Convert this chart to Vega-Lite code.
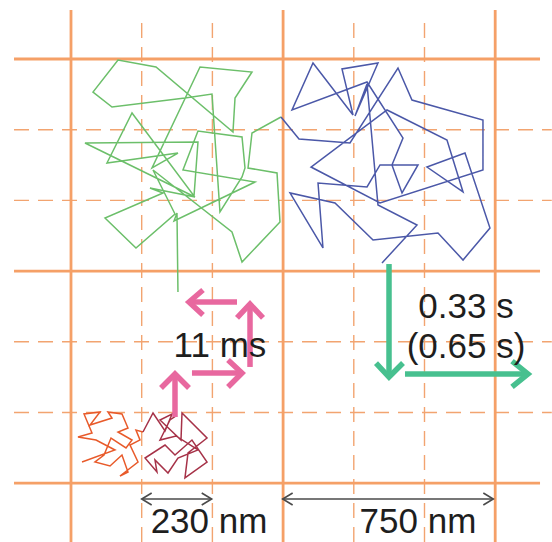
{
"$schema": "https://vega.github.io/schema/vega-lite/v6.json",
"width": 552, "height": 542, "padding": 0, "autosize": {"type": "none"},
"background": "white",
"config": {"view": {"stroke": null}},
"datasets": {
"grid": [
{"k":"s","x":0,"x2":0,"y":-0.693,"y2":6.9},
{"k":"s","x":3,"x2":3,"y":-0.693,"y2":6.9},
{"k":"s","x":6,"x2":6,"y":-0.693,"y2":6.9},
{"k":"s","x":-0.806,"x2":6.634,"y":0,"y2":0},
{"k":"s","x":-0.806,"x2":6.634,"y":3,"y2":3},
{"k":"s","x":-0.806,"x2":6.634,"y":6,"y2":6},
{"k":"d","x":1,"x2":1,"y":-0.509,"y2":6.9},
{"k":"d","x":2,"x2":2,"y":-0.509,"y2":6.9},
{"k":"d","x":4,"x2":4,"y":-0.509,"y2":6.9},
{"k":"d","x":5,"x2":5,"y":-0.509,"y2":6.9},
{"k":"d","x":-0.806,"x2":6.8,"y":1,"y2":1},
{"k":"d","x":-0.806,"x2":6.8,"y":2,"y2":2},
{"k":"d","x":-0.806,"x2":6.8,"y":4,"y2":4},
{"k":"d","x":-0.806,"x2":6.8,"y":5,"y2":5}
],
"traj": [
{"s":"g","i":1,"x":1.513,"y":3.296},
{"s":"g","i":2,"x":1.499,"y":2.178},
{"s":"g","i":3,"x":1.457,"y":2.291},
{"s":"g","i":4,"x":2.603,"y":1.740},
{"s":"g","i":5,"x":1.584,"y":1.570},
{"s":"g","i":6,"x":1.796,"y":1.018},
{"s":"g","i":7,"x":2.419,"y":1.103},
{"s":"g","i":8,"x":2.461,"y":1.542},
{"s":"g","i":9,"x":2.419,"y":1.669},
{"s":"g","i":10,"x":2.107,"y":2.164},
{"s":"g","i":11,"x":1.994,"y":0.495},
{"s":"g","i":12,"x":1.612,"y":0.552},
{"s":"g","i":13,"x":0.580,"y":0.679},
{"s":"g","i":14,"x":0.311,"y":0.467},
{"s":"g","i":15,"x":0.665,"y":0.014},
{"s":"g","i":16,"x":1.202,"y":0.113},
{"s":"g","i":17,"x":2.291,"y":1.033},
{"s":"g","i":18,"x":2.320,"y":0.552},
{"s":"g","i":19,"x":2.560,"y":0.184},
{"s":"g","i":20,"x":1.825,"y":0.113},
{"s":"g","i":21,"x":1.146,"y":1.542},
{"s":"g","i":22,"x":1.513,"y":1.330},
{"s":"g","i":23,"x":0.509,"y":1.471},
{"s":"g","i":24,"x":0.863,"y":0.764},
{"s":"g","i":25,"x":1.740,"y":1.938},
{"s":"g","i":26,"x":1.796,"y":1.174},
{"s":"g","i":27,"x":0.198,"y":1.188},
{"s":"g","i":28,"x":1.754,"y":1.952},
{"s":"g","i":29,"x":1.117,"y":1.825},
{"s":"g","i":30,"x":1.301,"y":1.895},
{"s":"g","i":31,"x":0.481,"y":2.249},
{"s":"g","i":32,"x":0.919,"y":2.673},
{"s":"g","i":33,"x":1.471,"y":2.192},
{"s":"g","i":34,"x":1.160,"y":1.570},
{"s":"g","i":35,"x":2.277,"y":2.447},
{"s":"g","i":36,"x":2.419,"y":2.871},
{"s":"g","i":37,"x":2.956,"y":2.306},
{"s":"g","i":38,"x":2.914,"y":1.612},
{"s":"g","i":39,"x":2.504,"y":1.542},
{"s":"g","i":40,"x":2.560,"y":1.047},
{"s":"g","i":41,"x":2.970,"y":0.820},
{"s":"b","i":1,"x":2.970,"y":0.820},
{"s":"b","i":2,"x":3.225,"y":1.132},
{"s":"b","i":3,"x":3.946,"y":1.188},
{"s":"b","i":4,"x":4.625,"y":0.127},
{"s":"b","i":5,"x":4.823,"y":0.580},
{"s":"b","i":6,"x":5.827,"y":0.863},
{"s":"b","i":7,"x":5.827,"y":1.570},
{"s":"b","i":8,"x":4.371,"y":2.037},
{"s":"b","i":9,"x":3.395,"y":1.528},
{"s":"b","i":10,"x":4.470,"y":0.721},
{"s":"b","i":11,"x":5.318,"y":1.146},
{"s":"b","i":12,"x":5.545,"y":1.881},
{"s":"b","i":13,"x":5.035,"y":1.528},
{"s":"b","i":14,"x":5.573,"y":1.330},
{"s":"b","i":15,"x":5.926,"y":2.390},
{"s":"b","i":16,"x":5.545,"y":2.843},
{"s":"b","i":17,"x":5.191,"y":2.461},
{"s":"b","i":18,"x":4.272,"y":2.560},
{"s":"b","i":19,"x":3.734,"y":2.037},
{"s":"b","i":20,"x":3.098,"y":1.895},
{"s":"b","i":21,"x":3.564,"y":2.673},
{"s":"b","i":22,"x":3.494,"y":1.754},
{"s":"b","i":23,"x":4.187,"y":1.810},
{"s":"b","i":24,"x":4.371,"y":1.499},
{"s":"b","i":25,"x":4.908,"y":1.499},
{"s":"b","i":26,"x":4.682,"y":1.895},
{"s":"b","i":27,"x":4.540,"y":1.499},
{"s":"b","i":28,"x":4.696,"y":1.117},
{"s":"b","i":29,"x":4.187,"y":0.325},
{"s":"b","i":30,"x":3.126,"y":0.721},
{"s":"b","i":31,"x":3.423,"y":0.057},
{"s":"b","i":32,"x":3.989,"y":0.792},
{"s":"b","i":33,"x":3.833,"y":0.141},
{"s":"b","i":34,"x":4.342,"y":0.057},
{"s":"b","i":35,"x":4.017,"y":0.806},
{"s":"b","i":36,"x":4.187,"y":0.354},
{"s":"b","i":37,"x":4.342,"y":2.065},
{"s":"b","i":38,"x":4.894,"y":2.348},
{"s":"b","i":39,"x":4.399,"y":2.885},
{"s":"r","i":1,"x":0.156,"y":5.700},
{"s":"r","i":2,"x":0.622,"y":5.530},
{"s":"r","i":3,"x":0.354,"y":5.389},
{"s":"r","i":4,"x":0.099,"y":5.346},
{"s":"r","i":5,"x":0.297,"y":5.290},
{"s":"r","i":6,"x":0.184,"y":5.021},
{"s":"r","i":7,"x":0.410,"y":4.993},
{"s":"r","i":8,"x":0.269,"y":5.177},
{"s":"r","i":9,"x":0.580,"y":5.078},
{"s":"r","i":10,"x":0.523,"y":4.993},
{"s":"r","i":11,"x":0.721,"y":5.021},
{"s":"r","i":12,"x":0.806,"y":5.219},
{"s":"r","i":13,"x":0.665,"y":5.276},
{"s":"r","i":14,"x":0.863,"y":5.389},
{"s":"r","i":15,"x":0.778,"y":5.502},
{"s":"r","i":16,"x":0.566,"y":5.361},
{"s":"r","i":17,"x":0.467,"y":5.601},
{"s":"r","i":18,"x":0.339,"y":5.700},
{"s":"r","i":19,"x":0.552,"y":5.757},
{"s":"r","i":20,"x":0.721,"y":5.601},
{"s":"r","i":21,"x":0.806,"y":5.842},
{"s":"r","i":22,"x":0.693,"y":5.898},
{"s":"r","i":23,"x":0.948,"y":5.700},
{"s":"r","i":24,"x":0.835,"y":5.460},
{"s":"r","i":25,"x":0.976,"y":5.389},
{"s":"r","i":26,"x":0.919,"y":5.248},
{"s":"r","i":27,"x":1.018,"y":5.276},
{"s":"d","i":1,"x":1.018,"y":5.276},
{"s":"d","i":2,"x":1.160,"y":5.007},
{"s":"d","i":3,"x":1.330,"y":5.262},
{"s":"d","i":4,"x":1.429,"y":5.021},
{"s":"d","i":5,"x":1.259,"y":5.106},
{"s":"d","i":6,"x":1.556,"y":5.389},
{"s":"d","i":7,"x":1.570,"y":5.007},
{"s":"d","i":8,"x":1.924,"y":5.361},
{"s":"d","i":9,"x":1.655,"y":5.573},
{"s":"d","i":10,"x":1.612,"y":5.926},
{"s":"d","i":11,"x":1.924,"y":5.700},
{"s":"d","i":12,"x":1.711,"y":5.389},
{"s":"d","i":13,"x":1.471,"y":5.601},
{"s":"d","i":14,"x":1.330,"y":5.460},
{"s":"d","i":15,"x":1.047,"y":5.644},
{"s":"d","i":16,"x":1.216,"y":5.842},
{"s":"d","i":17,"x":1.188,"y":5.672},
{"s":"d","i":18,"x":1.372,"y":5.856},
{"s":"d","i":19,"x":1.513,"y":5.644},
{"s":"d","i":20,"x":1.796,"y":5.530},
{"s":"d","i":21,"x":1.485,"y":5.332},
{"s":"d","i":22,"x":1.259,"y":5.389},
{"s":"d","i":23,"x":1.400,"y":5.106},
{"s":"d","i":24,"x":1.485,"y":5.049}
],
"arrows": [
{"c":"pink","a":"p1s","i":1,"x":1.471,"y":5.064},
{"c":"pink","a":"p1s","i":2,"x":1.471,"y":4.470},
{"c":"pink","a":"p1h","i":1,"x":1.273,"y":4.653},
{"c":"pink","a":"p1h","i":2,"x":1.471,"y":4.455},
{"c":"pink","a":"p1h","i":3,"x":1.669,"y":4.653},
{"c":"pink","a":"p2s","i":1,"x":1.711,"y":4.441},
{"c":"pink","a":"p2s","i":2,"x":2.405,"y":4.441},
{"c":"pink","a":"p2h","i":1,"x":2.221,"y":4.257},
{"c":"pink","a":"p2h","i":2,"x":2.419,"y":4.441},
{"c":"pink","a":"p2h","i":3,"x":2.221,"y":4.639},
{"c":"pink","a":"p3s","i":1,"x":2.532,"y":4.356},
{"c":"pink","a":"p3s","i":2,"x":2.532,"y":3.480},
{"c":"pink","a":"p3h","i":1,"x":2.348,"y":3.663},
{"c":"pink","a":"p3h","i":2,"x":2.532,"y":3.465},
{"c":"pink","a":"p3h","i":3,"x":2.716,"y":3.663},
{"c":"pink","a":"p4s","i":1,"x":2.348,"y":3.437},
{"c":"pink","a":"p4s","i":2,"x":1.683,"y":3.437},
{"c":"pink","a":"p4h","i":1,"x":1.867,"y":3.267},
{"c":"pink","a":"p4h","i":2,"x":1.669,"y":3.437},
{"c":"pink","a":"p4h","i":3,"x":1.867,"y":3.621},
{"c":"teal","a":"t1s","i":1,"x":4.498,"y":2.900},
{"c":"teal","a":"t1s","i":2,"x":4.498,"y":4.484},
{"c":"teal","a":"t1h","i":1,"x":4.314,"y":4.300},
{"c":"teal","a":"t1h","i":2,"x":4.498,"y":4.498},
{"c":"teal","a":"t1h","i":3,"x":4.696,"y":4.300},
{"c":"teal","a":"t2s","i":1,"x":4.724,"y":4.455},
{"c":"teal","a":"t2s","i":2,"x":6.450,"y":4.455},
{"c":"teal","a":"t2h","i":1,"x":6.238,"y":4.272},
{"c":"teal","a":"t2h","i":2,"x":6.464,"y":4.455},
{"c":"teal","a":"t2h","i":3,"x":6.238,"y":4.639},
{"c":"gray","a":"g1s","i":1,"x":1.0,"y":6.224},
{"c":"gray","a":"g1s","i":2,"x":1.99,"y":6.224},
{"c":"gray","a":"g1l","i":1,"x":1.141,"y":6.139},
{"c":"gray","a":"g1l","i":2,"x":1.0,"y":6.224},
{"c":"gray","a":"g1l","i":3,"x":1.141,"y":6.309},
{"c":"gray","a":"g1r","i":1,"x":1.849,"y":6.139},
{"c":"gray","a":"g1r","i":2,"x":1.99,"y":6.224},
{"c":"gray","a":"g1r","i":3,"x":1.849,"y":6.309},
{"c":"gray","a":"g2s","i":1,"x":2.994,"y":6.224},
{"c":"gray","a":"g2s","i":2,"x":5.973,"y":6.224},
{"c":"gray","a":"g2l","i":1,"x":3.135,"y":6.139},
{"c":"gray","a":"g2l","i":2,"x":2.994,"y":6.224},
{"c":"gray","a":"g2l","i":3,"x":3.135,"y":6.309},
{"c":"gray","a":"g2r","i":1,"x":5.832,"y":6.139},
{"c":"gray","a":"g2r","i":2,"x":5.973,"y":6.224},
{"c":"gray","a":"g2r","i":3,"x":5.832,"y":6.309}
],
"labels": [
{"t":"11 ms","x":2.107,"y":4.215},
{"t":"0.33 s","x":5.587,"y":3.665},
{"t":"(0.65 s)","x":5.587,"y":4.229},
{"t":"230 nm","x":1.952,"y":6.700},
{"t":"750 nm","x":4.908,"y":6.700}
]
},
"encoding": {
"x": {"field":"x","type":"quantitative","scale":{"domain":[-1.0042,6.8034],"nice":false,"zero":false},"axis":null},
"y": {"field":"y","type":"quantitative","scale":{"domain":[-0.8345,6.8317],"nice":false,"zero":false,"reverse":true},"axis":null}
},
"layer": [
{"data":{"name":"grid"},"transform":[{"filter":"datum.k == 'd'"}],
 "mark":{"type":"rule","stroke":"#f2a470","strokeWidth":1.4,"strokeDash":[15,9]},
 "encoding":{"x2":{"field":"x2"},"y2":{"field":"y2"}}},
{"data":{"name":"grid"},"transform":[{"filter":"datum.k == 's'"}],
 "mark":{"type":"rule","stroke":"#f5a067","strokeWidth":2.8},
 "encoding":{"x2":{"field":"x2"},"y2":{"field":"y2"}}},
{"data":{"name":"traj"},
 "mark":{"type":"line","strokeWidth":1.5,"strokeJoin":"miter","strokeMiterLimit":4},
 "encoding":{"color":{"field":"s","type":"nominal","scale":{"domain":["g","b","r","d"],"range":["#6cbf6a","#4b58a8","#e85a2a","#a63248"]},"legend":null},
  "order":{"field":"i","type":"quantitative"}}},
{"data":{"name":"arrows"},"transform":[{"filter":"datum.c == 'pink'"}],
 "mark":{"type":"line","stroke":"#e8689f","strokeWidth":5.5,"strokeCap":"butt","strokeJoin":"miter"},
 "encoding":{"detail":{"field":"a","type":"nominal"},"order":{"field":"i","type":"quantitative"}}},
{"data":{"name":"arrows"},"transform":[{"filter":"datum.c == 'teal'"}],
 "mark":{"type":"line","stroke":"#47c08f","strokeWidth":5.5,"strokeCap":"butt","strokeJoin":"miter"},
 "encoding":{"detail":{"field":"a","type":"nominal"},"order":{"field":"i","type":"quantitative"}}},
{"data":{"name":"arrows"},"transform":[{"filter":"datum.c == 'gray'"}],
 "mark":{"type":"line","stroke":"#4a4a4a","strokeWidth":1.6,"strokeCap":"butt","strokeJoin":"miter"},
 "encoding":{"detail":{"field":"a","type":"nominal"},"order":{"field":"i","type":"quantitative"}}},
{"data":{"name":"labels"},
 "mark":{"type":"text","font":"Liberation Sans","fontSize":35,"color":"#1e1e1e","align":"center","baseline":"alphabetic"},
 "encoding":{"text":{"field":"t","type":"nominal"}}}
]
}
